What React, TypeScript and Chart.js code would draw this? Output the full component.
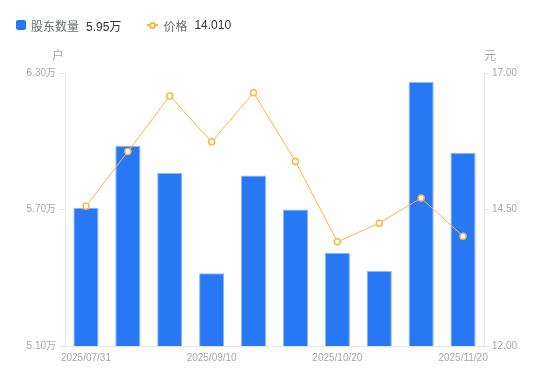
import React, { useEffect, useRef } from "react";
import { Chart, registerables } from "chart.js";

Chart.register(...registerables);

const categories = [
  "2025/07/31",
  "2025/08/15",
  "2025/08/31",
  "2025/09/10",
  "2025/09/19",
  "2025/09/30",
  "2025/10/20",
  "2025/10/31",
  "2025/11/10",
  "2025/11/20",
];
const holders = [5.708, 5.98, 5.86, 5.42, 5.85, 5.7, 5.51, 5.43, 6.26, 5.95];
const prices = [14.56, 15.56, 16.58, 15.74, 16.64, 15.38, 13.91, 14.25, 14.71, 14.01];
const shownTickIndexes = [0, 3, 6, 9];
const leftTicks = [5.1, 5.7, 6.3];
const rightTicks = [12, 14.5, 17];

const holderName = "股东数量";
const priceName = "价格";
const holderLegendValue = "5.95万";
const priceLegendValue = "14.010";
const leftUnit = "户";
const rightUnit = "元";

const FONT = '"Liberation Sans", Arial, "Noto Sans CJK SC", sans-serif';
const BLUE = "#2878f5";
const ORANGE = "#fbb540";
const AXIS_GRAY = "#e6e6e6";
const TICK_COLOR = "#a3a7b2";

const unitPlugin = {
  id: "unitLabels",
  afterDraw(chart: any) {
    const { ctx, chartArea } = chart;
    ctx.save();
    ctx.font = `12px ${FONT}`;
    ctx.fillStyle = TICK_COLOR;
    ctx.textAlign = "center";
    ctx.textBaseline = "middle";
    ctx.fillText(leftUnit, chartArea.left - 7, chartArea.top - 16);
    ctx.fillText(rightUnit, chartArea.right + 6, chartArea.top - 16);
    ctx.restore();
  },
};

export default function App() {
  const ref = useRef<HTMLCanvasElement>(null);

  useEffect(() => {
    if (!ref.current) return;
    const chart = new Chart(ref.current, {
      type: "bar",
      data: {
        labels: categories,
        datasets: [
          {
            type: "line",
            label: priceName,
            data: prices,
            yAxisID: "y1",
            borderColor: ORANGE,
            borderWidth: 1,
            pointRadius: 3,
            pointBorderWidth: 1.5,
            pointBackgroundColor: "#ffffff",
            pointBorderColor: ORANGE,
            tension: 0,
            order: 0,
          } as any,
          {
            type: "bar",
            label: holderName,
            data: holders,
            yAxisID: "y",
            backgroundColor: BLUE,
            borderColor: "#8db8fa",
            borderWidth: 1,
            barPercentage: 0.6,
            categoryPercentage: 1,
            order: 1,
          } as any,
        ],
      },
      options: {
        animation: false,
        responsive: false,
        maintainAspectRatio: false,
        layout: { padding: { top: 73, left: 0, right: 0, bottom: 0 } },
        plugins: {
          legend: { display: false },
          tooltip: { enabled: false },
        },
        scales: {
          x: {
            type: "category",
            offset: true,
            grid: { display: false, drawTicks: false },
            border: { display: true, color: AXIS_GRAY },
            ticks: {
              autoSkip: false,
              maxRotation: 0,
              padding: 6,
              color: TICK_COLOR,
              font: { family: FONT, size: 10 },
              callback: (_v: any, i: number) =>
                shownTickIndexes.includes(i) ? categories[i] : "",
            },
            afterFit: (s: any) => {
              s.height = 35;
            },
          },
          y: {
            position: "left",
            min: leftTicks[0],
            max: leftTicks[leftTicks.length - 1],
            afterBuildTicks: (s: any) => {
              s.ticks = leftTicks.map((v) => ({ value: v }));
            },
            grid: {
              drawOnChartArea: false,
              drawTicks: true,
              tickLength: 5,
              color: AXIS_GRAY,
            },
            border: { display: true, color: AXIS_GRAY },
            ticks: {
              padding: 4,
              color: TICK_COLOR,
              font: { family: FONT, size: 10 },
              callback: (v: any) => Number(v).toFixed(2) + "万",
            },
            afterFit: (s: any) => {
              s.width = 65;
            },
          },
          y1: {
            position: "right",
            min: rightTicks[0],
            max: rightTicks[rightTicks.length - 1],
            afterBuildTicks: (s: any) => {
              s.ticks = rightTicks.map((v) => ({ value: v }));
            },
            grid: {
              drawOnChartArea: false,
              drawTicks: true,
              tickLength: 5,
              color: AXIS_GRAY,
            },
            border: { display: true, color: AXIS_GRAY },
            ticks: {
              padding: 3,
              color: TICK_COLOR,
              font: { family: FONT, size: 10 },
              callback: (v: any) => Number(v).toFixed(2),
            },
            afterFit: (s: any) => {
              s.width = 66;
            },
          },
        },
      } as any,
      plugins: [unitPlugin],
    });
    return () => chart.destroy();
  }, []);

  return (
    <div
      style={{
        position: "absolute",
        left: 0,
        top: 0,
        width: 550,
        height: 381,
        background: "#ffffff",
        fontFamily: FONT,
      }}
    >
      <canvas
        ref={ref}
        width={550}
        height={381}
        style={{ position: "absolute", left: 0, top: 0, width: 550, height: 381 }}
      />
      <div
        style={{
          position: "absolute",
          left: 16,
          top: 16,
          height: 18,
          display: "flex",
          alignItems: "center",
          fontSize: 12,
          whiteSpace: "nowrap",
        }}
      >
        <span
          style={{
            display: "inline-block",
            width: 10,
            height: 10,
            borderRadius: 2,
            background: BLUE,
            marginRight: 5,
          }}
        />
        <span style={{ color: "#6b6e76" }}>{holderName}</span>
        <span style={{ color: "#333333", marginLeft: 7 }}>{holderLegendValue}</span>
        <span
          style={{
            position: "relative",
            display: "inline-block",
            width: 11,
            height: 10,
            marginLeft: 26,
            marginRight: 5,
          }}
        >
          <span
            style={{
              position: "absolute",
              left: 0,
              top: 4,
              width: 11,
              height: 2,
              background: ORANGE,
            }}
          />
          <span
            style={{
              position: "absolute",
              left: 2,
              top: 1.5,
              width: 3,
              height: 3,
              borderRadius: "50%",
              border: `2px solid ${ORANGE}`,
              background: "#ffffff",
            }}
          />
        </span>
        <span style={{ color: "#6b6e76" }}>{priceName}</span>
        <span style={{ color: "#333333", marginLeft: 7 }}>{priceLegendValue}</span>
      </div>
    </div>
  );
}
